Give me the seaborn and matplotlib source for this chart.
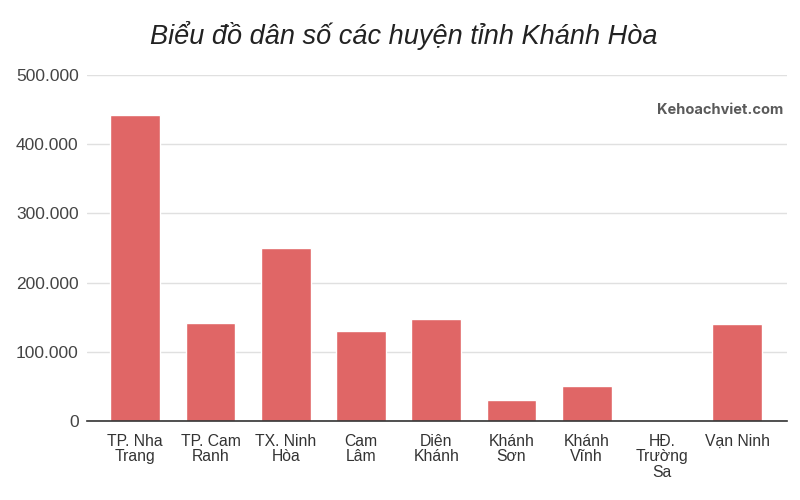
import matplotlib
matplotlib.use('Agg')
import matplotlib.pyplot as plt
import seaborn as sns
import pandas as pd
from matplotlib.ticker import FuncFormatter

# Dân số các huyện (ước lượng từ biểu đồ)
districts = ['TP. Nha\nTrang', 'TP. Cam\nRanh', 'TX. Ninh\nHòa', 'Cam\nLâm', 'Diên\nKhánh',
             'Khánh\nSơn', 'Khánh\nVĩnh', 'HĐ.\nTrường\nSa', 'Vạn Ninh']
population = [442000, 142000, 250000, 130000, 147000, 30000, 51000, 0, 140000]
y_ticks = [0, 100000, 200000, 300000, 400000, 500000]

df = pd.DataFrame({'district': districts, 'population': population})

sns.set_style('white')
plt.rcParams['font.family'] = ['Liberation Sans', 'DejaVu Sans']

fig = plt.figure(figsize=(8, 5), dpi=100)
ax = fig.add_axes([87 / 800, 1 - 421 / 500, 700 / 800, 346 / 500])

sns.barplot(data=df, x='district', y='population', color='#e06666',
            saturation=1, width=0.66, ax=ax, zorder=3)

ax.set_xlim(-0.64, 8.66)
ax.set_ylim(0, 500000)
ax.set_yticks(y_ticks)
ax.yaxis.set_major_formatter(FuncFormatter(lambda v, p: f'{int(v):,}'.replace(',', '.')))
ax.grid(axis='y', color='#e0e0e0', linewidth=1, zorder=0)
ax.set_xlabel('')
ax.set_ylabel('')

for s in ['top', 'right', 'left']:
    ax.spines[s].set_visible(False)
ax.spines['bottom'].set_color('#333333')
ax.spines['bottom'].set_linewidth(1.2)
ax.spines['bottom'].set_zorder(4)

ax.tick_params(axis='y', length=0, pad=6, labelsize=12.5, labelcolor='#444444')
ax.tick_params(axis='x', length=0, pad=9, labelsize=11.3, labelcolor='#333333')
for lbl in ax.get_xticklabels():
    lbl.set_linespacing(1.05)
    lbl.set_verticalalignment('top')
    lbl.set_horizontalalignment('center')

fig.text(0.505, 1 - 35 / 500, 'Biểu đồ dân số các huyện tỉnh Khánh Hòa',
         ha='center', va='center', fontsize=19.5, style='italic', color='#222222')
fig.text(720 / 800, 1 - 110 / 500, 'Kehoachviet.com', ha='center', va='center',
         fontsize=10.5, fontweight='bold', color='#5a5a5a', family=['Inter', 'DejaVu Sans'])

fig.savefig('out.png', dpi=100)
plt.close(fig)
